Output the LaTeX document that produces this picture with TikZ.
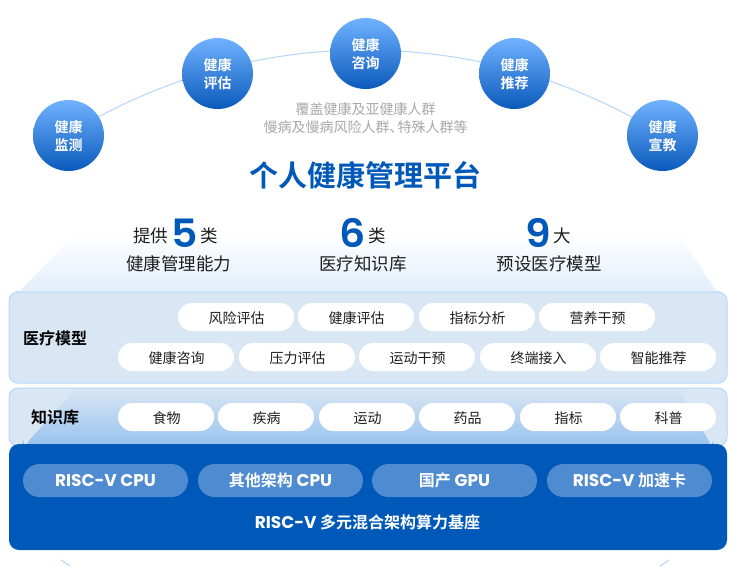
\documentclass[tikz,border=0pt]{standalone}
\usepackage{fontspec}
\setmainfont{Noto Sans CJK SC}[BoldFont={Noto Sans CJK SC Bold}]
\newfontfamily\lat{Poppins}
\newfontfamily\digfont{Poppins SemiBold}[FakeStretch=1.05]
\newcommand{\latin}[1]{{\lat\bfseries\fontsize{17}{18}\selectfont #1}}
\newcommand{\bubtext}[2]{\raisebox{-1pt}[12pt][2pt]{#1}\\\raisebox{-1pt}[12pt][2pt]{#2}}
\definecolor{arcblue}{HTML}{B3D6FA}
\definecolor{panelfill}{HTML}{D9E6F4}
\definecolor{panelline}{HTML}{B5D7FB}
\definecolor{deepblue}{HTML}{0059B8}
\definecolor{pillblue}{HTML}{4F8BD0}
\definecolor{softblue}{HTML}{E6F0FB}
\definecolor{midblue}{HTML}{98C2EE}
\definecolor{greytxt}{HTML}{A8A8A8}
\definecolor{inktxt}{HTML}{1E1E1E}
\definecolor{bubbletop}{HTML}{70B2FF}
\definecolor{bubblemid}{HTML}{5C9FF2}
\definecolor{bubblelow}{HTML}{0A5ABB}
\tikzset{
  x=1pt,y=-1pt,
  pillnudge/.style={execute at begin node=\rule{0pt}{#1}\hspace*{1pt}},
  bubble/.style={circle,minimum size=71pt,inner sep=0pt,
    top color=bubbletop,middle color=bubblemid,bottom color=bubblelow,
    text=white,align=center,font=\fontsize{14}{18}\selectfont\bfseries},
  panelbox/.style={rectangle,rounded corners=9pt,inner sep=0pt,draw=panelline,line width=1pt,fill=panelfill},
  basebox/.style={rectangle,rounded corners=10pt,inner sep=0pt,fill=deepblue},
  pillbox/.style={rectangle,rounded corners=14pt,inner sep=0pt,minimum height=28pt,fill=white,text=inktxt,
    font=\fontsize{14}{16}\selectfont,pillnudge=14.3pt},
  hwpill/.style={rectangle,rounded corners=16.5pt,inner sep=0pt,minimum width=165pt,minimum height=33pt,fill=pillblue,text=white,
    font=\fontsize{16}{18}\selectfont\bfseries},
  grouplabel/.style={inner sep=0pt,text=black,font=\fontsize{16}{18}\selectfont\bfseries},
  subtxt/.style={inner sep=0pt,text=greytxt,font=\fontsize{14}{16}\selectfont},
  statbig/.style={inner sep=0pt,text=deepblue,text height=27pt,text depth=0pt,font=\fontsize{39}{42}\selectfont\digfont},
  statsmall/.style={inner sep=0pt,text=inktxt,font=\fontsize{17.5}{20}\selectfont},
}
\begin{document}
\begin{tikzpicture}
\useasboundingbox (0,0) rectangle (730,566);
% fading arc
\foreach \a in {-36,-35.5,...,35.5}{
  \pgfmathsetmacro{\op}{min(1,max(0,(36-abs(\a+0.25))/8))}
  \draw[arcblue,line width=1pt,opacity=\op]
    ({365+565*sin(\a)},{615-565*cos(\a)}) -- ({365+565*sin(\a+0.5)},{615-565*cos(\a+0.5)});
}
\coordinate (lowL1) at (61,560); \coordinate (lowL2) at (70,566);
\coordinate (lowR1) at (669,560); \coordinate (lowR2) at (660,566);
\draw[arcblue,line width=1pt] (lowL1) -- (lowL2);
\draw[arcblue,line width=1pt] (lowR1) -- (lowR2);
% back trapezoid: shaded band, corners masked in white
\shade[top color=white,bottom color=softblue] (15,232) rectangle (720,285);
\fill[softblue] (15,284.5) rectangle (720,296);
\fill[white] (14,231) -- (78,231) -- (77,232) -- (20,290.5) -- (14,290.5) -- cycle;
\fill[white] (721,231) -- (677,231) -- (678,232) -- (716,290.5) -- (721,290.5) -- cycle;
% circles
\node[bubble] (c1) at (68.5,135.5) {\bubtext{健康}{监测}};
\node[bubble] (c2) at (217.5,73.5) {\bubtext{健康}{评估}};
\node[bubble] (c3) at (365.5,53.5) {\bubtext{健康}{咨询}};
\node[bubble] (c4) at (514.5,73.5) {\bubtext{健康}{推荐}};
\node[bubble] (c5) at (662.5,135.5) {\bubtext{健康}{宣教}};
\node[subtxt] (sub1) at (365.5,109) {覆盖健康及亚健康人群};
\node[subtxt] (sub2) at (365.5,127) {慢病及慢病风险人群、\kern-6pt 特殊人群等};
\node[inner sep=0pt,text=deepblue,font=\fontsize{29}{32}\selectfont\bfseries] (title) at (365.5,175) {个人健康管理平台};
% stats
\node[statsmall] (s1a) at (150.5,236) {提供};
\node[statbig] (s1b) at (184.5,233.5) {5};
\node[statsmall] (s1c) at (209,236) {类};
\node[statsmall] (s1d) at (178.5,264) {健康管理能力};
\node[statbig] (s2b) at (352.5,233.5) {6};
\node[statsmall] (s2c) at (377,236) {类};
\node[statsmall] (s2d) at (363,264) {医疗知识库};
\node[statbig] (s3b) at (538,233.5) {9};
\node[statsmall] (s3c) at (562.5,236) {大};
\node[statsmall] (s3d) at (549,264) {预设医疗模型};
% panels
\node[panelbox,minimum width=718pt,minimum height=91pt] (model) at (368,337.5) {};
\node[panelbox,minimum width=718pt,minimum height=58pt,
  path picture={
    \shade[top color=panelfill,bottom color=midblue] (-368,-29) rectangle (368,27);
    \fill[midblue] (-368,26.5) rectangle (368,30);
    \fill[panelfill] (-368,-30) -- (-291,-30) -- (-344,29) -- (-344,30) -- (-368,30) -- cycle;
    \fill[panelfill] (368,-30) -- (309,-30) -- (344,29) -- (344,30) -- (368,30) -- cycle;
  }]
  (know) at (368,417) {};
\node[basebox,minimum width=718pt,minimum height=106pt] (base) at (368,497) {};
\node[grouplabel] (lm) at (55,338) {医疗模型};
\node[grouplabel] (lk) at (55,417) {知识库};
% model pills
\node[pillbox,minimum width=116pt] (m1) at (236,317) {风险评估};
\node[pillbox,minimum width=116pt] (m2) at (356,317) {健康评估};
\node[pillbox,minimum width=116pt] (m3) at (477,317) {指标分析};
\node[pillbox,minimum width=116pt] (m4) at (597,317) {营养干预};
\node[pillbox,minimum width=116pt] (m5) at (176,357) {健康咨询};
\node[pillbox,minimum width=116pt] (m6) at (297,357) {压力评估};
\node[pillbox,minimum width=116pt] (m7) at (417,357) {运动干预};
\node[pillbox,minimum width=116pt] (m8) at (538,357) {终端接入};
\node[pillbox,minimum width=116pt] (m9) at (658,357) {智能推荐};
% knowledge pills
\node[pillbox,minimum width=96pt] (k1) at (166,417) {食物};
\node[pillbox,minimum width=96pt] (k2) at (266,417) {疾病};
\node[pillbox,minimum width=96pt] (k3) at (367,417) {运动};
\node[pillbox,minimum width=96pt] (k4) at (467,417) {药品};
\node[pillbox,minimum width=96pt] (k5) at (568,417) {指标};
\node[pillbox,minimum width=96pt] (k6) at (668,417) {科普};
% hardware
\node[hwpill] (h1) at (105.5,480.5) {\latin{RISC-V CPU}};
\node[hwpill] (h2) at (280.5,480.5) {其他架构 \latin{CPU}};
\node[hwpill] (h3) at (454.5,480.5) {国产 \latin{GPU}};
\node[hwpill] (h4) at (629.5,480.5) {\latin{RISC-V} 加速卡};
\node[inner sep=0pt,text=white,font=\fontsize{16}{18}\selectfont\bfseries] (bt) at (367.5,522) {\latin{RISC-V} 多元混合架构算力基座};
\end{tikzpicture}
\end{document}
